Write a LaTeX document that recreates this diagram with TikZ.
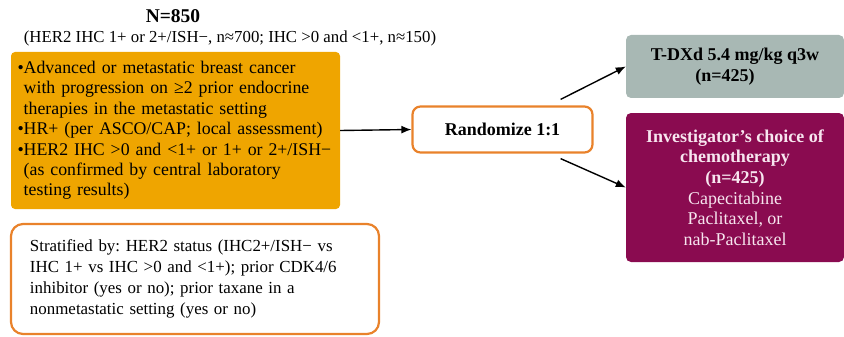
\documentclass[tikz,border=0pt]{standalone}
\usepackage{fontspec}
\setmainfont{Liberation Serif}
\usetikzlibrary{arrows.meta,positioning}
\definecolor{gold}{HTML}{EFA500}
\definecolor{rim}{HTML}{E9822B}
\definecolor{sage}{HTML}{A8B8B4}
\definecolor{plum}{HTML}{8A0B50}
\definecolor{blush}{HTML}{F7E6EF}
\newcommand{\bodysize}{\fontsize{17.8}{20.4}\selectfont}
\newcommand{\armsize}{\fontsize{18}{20.6}\selectfont}
\newcommand{\hang}{\hphantom{\textbullet}}
\frenchspacing

\begin{document}
\begin{tikzpicture}[x=1pt,y=-1pt,
    armbox/.style={rounded corners=5pt,minimum width=218pt,align=center,inner sep=0pt,font=\armsize},
    rimbox/.style={draw=rim,line width=2.2pt,fill=white},
    link/.style={-{Latex[length=10pt,width=8pt]},line width=1.4pt}]
    \useasboundingbox (0,0) rectangle (844,337);
    % header
    \node[font=\fontsize{19.5}{22}\selectfont\bfseries] (total) at (173,16) {N=850};
    \node[font=\fontsize{16.8}{19}\selectfont] (cohort) at (230,38) {(HER2 IHC 1+ or 2+/ISH−, n≈700; IHC >0 and <1+, n≈150)};
    % eligibility
    \node[fill=gold,rounded corners=4pt,minimum width=329pt,minimum height=157pt,text width=316pt,inner xsep=6.5pt,align=left,font=\bodysize] (elig) at (175.5,130.5) {%
        \textbullet Advanced or metastatic breast cancer\\
        \hang with progression on ≥2 prior endocrine\\
        \hang therapies in the metastatic setting\\
        \textbullet HR+ (per ASCO/CAP; local assessment)\\
        \textbullet HER2 IHC >0 and <1+ or 1+ or 2+/ISH−\\
        \hang(as confirmed by central laboratory\\
        \hang testing results)};
    \node[rimbox,rounded corners=12pt,minimum width=368pt,minimum height=110pt,text width=330pt,inner xsep=19pt,align=left,font=\fontsize{16.9}{21.2}\selectfont] (strat) at (195,279) {%
        Stratified by: HER2 status (IHC2+/ISH− vs\\
        IHC 1+ vs IHC >0 and <1+); prior CDK4/6\\
        inhibitor (yes or no); prior taxane in a\\
        nonmetastatic setting (yes or no)};
    % randomisation and arms
    \node[rimbox,rounded corners=8pt,minimum width=180pt,minimum height=46pt,font=\armsize\bfseries] (rand) at (502.5,129.5) {Randomize 1:1};
    \node[armbox,fill=sage,minimum height=63pt] (tdxd) at (735,66.5) {\bfseries T-DXd 5.4 mg/kg q3w\\\bfseries (n=425)\hspace*{20pt}};
    \node[armbox,fill=plum,text=blush,minimum height=149pt] (chemo) at (735,187.5) {%
        \bfseries Investigator’s choice of\\
        \bfseries chemotherapy\\
        \bfseries (n=425)\\
        Capecitabine\\
        Paclitaxel, or\\
        nab-Paclitaxel};
    \draw[link] (elig.east) -- (rand.west);
    \draw[link] ([xshift=-33pt,yshift=6pt]rand.north east) -- (tdxd.west);
    \draw[link] ([xshift=-33pt,yshift=-5pt]rand.south east) -- (chemo.west);
\end{tikzpicture}
\end{document}
